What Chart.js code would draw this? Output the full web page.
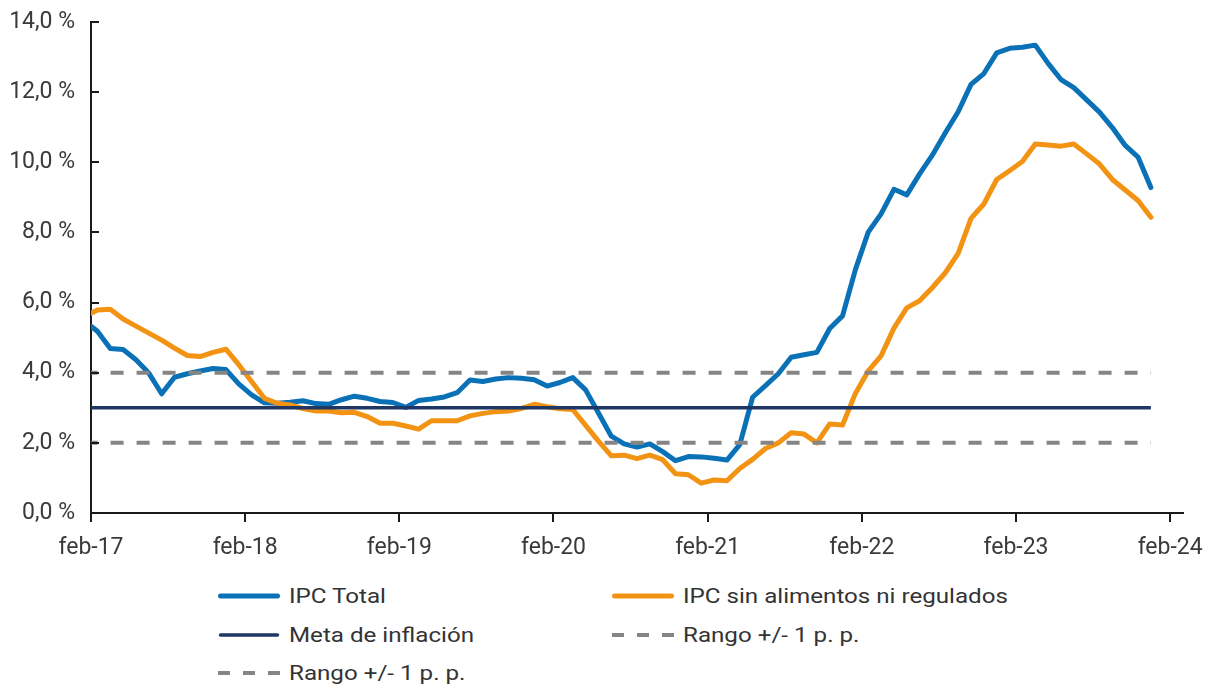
<!DOCTYPE html>
<html>
<head>
<meta charset="utf-8">
<script src="https://cdn.jsdelivr.net/npm/chart.js@4.4.1/dist/chart.umd.min.js"></script>
<style>
  html, body { margin: 0; padding: 0; background: #ffffff; }
  #wrap { position: relative; width: 1207px; height: 685px; overflow: hidden; }
  #c { position: absolute; left: 0; top: 0; }
  #legend {
    position: absolute; left: 218px; top: 577px;
    display: grid; grid-template-columns: 394px auto; grid-auto-rows: 38.5px;
    font-family: Roboto, "Noto Sans", sans-serif; font-size: 21px; color: #333333;
  }
  .item { display: flex; align-items: center; white-space: nowrap; }
  .item svg { margin-right: 9px; flex: none; }
  .item span { display: inline-block; transform: scaleX(1.15); transform-origin: 0 50%; }
</style>
</head>
<body>
<div id="wrap">
  <canvas id="c" width="1207" height="575"></canvas>
  <div id="legend"></div>
</div>
<script>
// ---- Data (monthly, ene-17 .. dic-23) ----
const months = [
  'ene-17','feb-17','mar-17','abr-17','may-17','jun-17','jul-17','ago-17','sep-17','oct-17','nov-17','dic-17',
  'ene-18','feb-18','mar-18','abr-18','may-18','jun-18','jul-18','ago-18','sep-18','oct-18','nov-18','dic-18',
  'ene-19','feb-19','mar-19','abr-19','may-19','jun-19','jul-19','ago-19','sep-19','oct-19','nov-19','dic-19',
  'ene-20','feb-20','mar-20','abr-20','may-20','jun-20','jul-20','ago-20','sep-20','oct-20','nov-20','dic-20',
  'ene-21','feb-21','mar-21','abr-21','may-21','jun-21','jul-21','ago-21','sep-21','oct-21','nov-21','dic-21',
  'ene-22','feb-22','mar-22','abr-22','may-22','jun-22','jul-22','ago-22','sep-22','oct-22','nov-22','dic-22',
  'ene-23','feb-23','mar-23','abr-23','may-23','jun-23','jul-23','ago-23','sep-23','oct-23','nov-23','dic-23'
];
const ipcTotal = [
  5.47, 5.18, 4.69, 4.66, 4.37, 3.99, 3.40, 3.87, 3.97, 4.05, 4.12, 4.09,
  3.68, 3.37, 3.14, 3.13, 3.16, 3.20, 3.12, 3.10, 3.23, 3.33, 3.27, 3.18,
  3.15, 3.01, 3.21, 3.25, 3.31, 3.43, 3.79, 3.75, 3.82, 3.86, 3.84, 3.80,
  3.62, 3.72, 3.86, 3.51, 2.85, 2.19, 1.97, 1.88, 1.97, 1.75, 1.49, 1.61,
  1.60, 1.56, 1.51, 1.95, 3.30, 3.63, 3.97, 4.44, 4.51, 4.58, 5.26, 5.62,
  6.94, 8.01, 8.53, 9.23, 9.07, 9.67, 10.21, 10.84, 11.44, 12.22, 12.53, 13.12,
  13.25, 13.28, 13.34, 12.82, 12.36, 12.13, 11.78, 11.43, 10.99, 10.48, 10.15, 9.28
];
const ipcSinAlimentosNiRegulados = [
  5.60, 5.79, 5.81, 5.53, 5.33, 5.13, 4.93, 4.70, 4.49, 4.46, 4.58, 4.67,
  4.23, 3.75, 3.27, 3.13, 3.08, 2.98, 2.91, 2.91, 2.86, 2.87, 2.75, 2.56,
  2.56, 2.48, 2.39, 2.63, 2.63, 2.63, 2.77, 2.84, 2.89, 2.91, 2.98, 3.10,
  3.03, 2.97, 2.95, 2.50, 2.05, 1.63, 1.65, 1.55, 1.65, 1.52, 1.12, 1.09,
  0.85, 0.94, 0.92, 1.27, 1.53, 1.84, 2.00, 2.29, 2.25, 2.00, 2.54, 2.51,
  3.41, 4.05, 4.48, 5.27, 5.85, 6.05, 6.43, 6.85, 7.40, 8.40, 8.81, 9.51,
  9.76, 10.02, 10.52, 10.49, 10.46, 10.52, 10.24, 9.95, 9.51, 9.21, 8.91, 8.43
];
const metaInflacion = 3;     // %
const rangoSuperior = 4;     // meta + 1 p.p.
const rangoInferior = 2;     // meta - 1 p.p.
const xTickLabels = ['feb-17','feb-18','feb-19','feb-20','feb-21','feb-22','feb-23','feb-24'];
const seriesNames = ['IPC Total', 'IPC sin alimentos ni regulados', 'Meta de inflación', 'Rango +/- 1 p. p.', 'Rango +/- 1 p. p.'];

// ---- Build chart ----
const toXY = arr => arr.map((v, i) => ({ x: i, y: v }));
const constSeries = level => months.map((m, i) => ({ x: i, y: level }));

const BLUE = '#0B71B7', ORANGE = '#F39313', NAVY = '#1E3765', GRAY = '#858585';
const FONT = 'Roboto, "Noto Sans", sans-serif';

const innerYTicks = {
  id: 'innerYTicks',
  afterDatasetsDraw(chart) {
    const y = chart.scales.y, ctx = chart.ctx, left = chart.chartArea.left;
    ctx.save();
    ctx.strokeStyle = '#1a1a1a';
    ctx.lineWidth = 2;
    y.ticks.forEach(t => {
      const py = Math.round(y.getPixelForValue(t.value));
      ctx.beginPath();
      ctx.moveTo(left, py);
      ctx.lineTo(left + 8, py);
      ctx.stroke();
    });
    ctx.restore();
  }
};

const lineBase = { pointRadius: 0, pointHoverRadius: 0, tension: 0, clip: 0, borderJoinStyle: 'round', borderCapStyle: 'round', fill: false };

const chart = new Chart(document.getElementById('c'), {
  type: 'line',
  data: {
    datasets: [
      Object.assign({}, lineBase, { label: seriesNames[0], data: toXY(ipcTotal), borderColor: BLUE, borderWidth: 5, order: 5 }),
      Object.assign({}, lineBase, { label: seriesNames[1], data: toXY(ipcSinAlimentosNiRegulados), borderColor: ORANGE, borderWidth: 5, order: 4 }),
      Object.assign({}, lineBase, { label: seriesNames[2], data: constSeries(metaInflacion), borderColor: NAVY, borderWidth: 3.5, borderCapStyle: 'butt', order: 3 }),
      Object.assign({}, lineBase, { label: seriesNames[3], data: constSeries(rangoSuperior), borderColor: GRAY, borderWidth: 4, borderDash: [13, 13], borderCapStyle: 'butt', order: 2 }),
      Object.assign({}, lineBase, { label: seriesNames[4], data: constSeries(rangoInferior), borderColor: GRAY, borderWidth: 4, borderDash: [13, 13], borderCapStyle: 'butt', order: 1 })
    ]
  },
  options: {
    responsive: false,
    animation: false,
    events: [],
    layout: { padding: { top: 22, right: 24, bottom: 0, left: 0 } },
    plugins: { legend: { display: false }, tooltip: { enabled: false } },
    scales: {
      x: {
        type: 'linear',
        min: 0.5,
        max: 85.5,
        afterFit(scale) { scale.height = 62; scale.paddingLeft = 0; scale.paddingRight = 0; },
        afterBuildTicks(scale) {
          // each "feb-yy" tick sits half a month before that month's data point, as in the reference
          scale.ticks = xTickLabels.map((lbl, k) => ({ value: 1 + 12 * k - 0.5 }));
        },
        ticks: {
          autoSkip: false, maxRotation: 0, padding: 12,
          color: '#3a3a3a', font: { family: FONT, size: 23 },
          callback: (v, idx) => xTickLabels[idx]
        },
        grid: { drawOnChartArea: false, drawTicks: true, tickLength: 9, color: '#1a1a1a', lineWidth: 2 },
        border: { display: true, color: '#1a1a1a', width: 2 }
      },
      y: {
        min: 0,
        max: 14,
        afterFit(scale) { scale.width = 91; scale.paddingTop = 0; scale.paddingBottom = 0; },
        ticks: {
          stepSize: 2, padding: 16,
          color: '#3a3a3a', font: { family: FONT, size: 23 },
          callback: v => v.toFixed(1).replace('.', ',') + ' %'
        },
        grid: { drawOnChartArea: false, drawTicks: false },
        border: { display: true, color: '#1a1a1a', width: 2 }
      }
    }
  },
  plugins: [innerYTicks]
});

// ---- HTML legend built from the datasets ----
const legendEl = document.getElementById('legend');
chart.data.datasets.forEach((ds, i) => {
  const item = document.createElement('div');
  item.className = 'item';
  const dashed = !!ds.borderDash;
  const dash = dashed ? 'stroke-dasharray="12 13"' : '';
  const cap = dashed ? 'butt' : 'round';
  const w = dashed ? 4 : ds.borderWidth;
  const x1 = dashed ? 0 : 2.5, x2 = dashed ? 62 : 59.5;
  item.innerHTML = `<svg width="62" height="10" viewBox="0 0 62 10"><line x1="${x1}" y1="5" x2="${x2}" y2="5" stroke="${ds.borderColor}" stroke-width="${w}" stroke-linecap="${cap}" ${dash}/></svg><span>${ds.label}</span>`;
  legendEl.appendChild(item);
});
</script>
</body>
</html>
